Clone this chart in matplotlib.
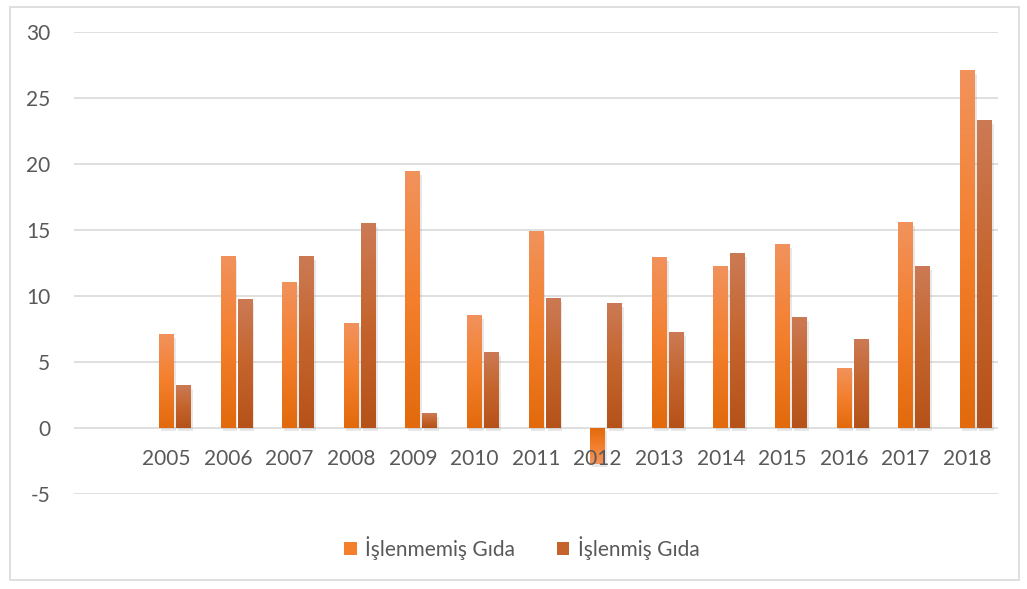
import numpy as np
import matplotlib.pyplot as plt
import matplotlib.patheffects as pe
from matplotlib.colors import LinearSegmentedColormap
from matplotlib.patches import Rectangle, Patch

plt.rcParams['font.family'] = ['Lato', 'DejaVu Sans']
plt.rcParams['axes.unicode_minus'] = False

# first slot is an empty category in the original chart
years = ['', '2005', '2006', '2007', '2008', '2009', '2010', '2011',
         '2012', '2013', '2014', '2015', '2016', '2017', '2018']
islenmemis = [np.nan, 7.1, 13.0, 11.0, 7.9, 19.4, 8.5, 14.9,
              -2.7, 12.9, 12.2, 13.9, 4.5, 15.6, 27.1]
islenmis = [np.nan, 3.2, 9.7, 13.0, 15.5, 1.1, 5.7, 9.8,
            9.4, 7.2, 13.2, 8.4, 6.7, 12.2, 23.3]
yticks = [-5, 0, 5, 10, 15, 20, 25, 30]

txt = '#595959'
fs = 15
cm_orange = LinearSegmentedColormap.from_list('o', ['#E26A0C', '#F47F2C', '#F1925C'])
cm_brown = LinearSegmentedColormap.from_list('b', ['#B5521A', '#C4642C', '#CC7A55'])

fig = plt.figure(figsize=(10.27, 5.89), dpi=100)
ax = fig.add_axes([74 / 1027, 1 - 494 / 589, 924 / 1027, 462 / 589])

x = np.arange(len(years))
w = 0.238
shadow = [pe.SimplePatchShadow(offset=(1.5, -2.5), shadow_rgbFace='#999999', alpha=0.22), pe.Normal()]
b1 = ax.bar(x, islenmemis, w, color='#F47F2C', zorder=3, path_effects=shadow)
b2 = ax.bar(x + 0.275, islenmis, w, color='#C4642C', zorder=3, path_effects=shadow)

# vertical gradient on each bar, dark at the base, light at the tip
grad = np.linspace(0, 1, 256).reshape(-1, 1)
for bars, cmap in [(b1, cm_orange), (b2, cm_brown)]:
    for b in bars:
        h = b.get_height()
        if not np.isfinite(h):
            continue
        x0 = b.get_x()
        ax.imshow(grad, cmap=cmap, origin='lower', aspect='auto', zorder=4,
                  extent=(x0, x0 + b.get_width(), 0, h), interpolation='bilinear')

ax.set_xlim(-0.5, len(years) - 0.5)
ax.set_ylim(-5, 30)
ax.set_yticks(yticks)
ax.set_xticks(x)
ax.set_xticklabels(years)
ax.yaxis.grid(True, color='#D9D9D9', linewidth=1.2)
ax.set_axisbelow(True)
ax.xaxis.set_zorder(5)
for s in ['top', 'right', 'left']:
    ax.spines[s].set_visible(False)
ax.spines['bottom'].set_position(('data', 0))
ax.spines['bottom'].set_visible(False)
ax.tick_params(axis='both', length=0, labelsize=fs, colors=txt)
ax.tick_params(axis='y', pad=17)
ax.tick_params(axis='x', pad=15)

handles = [Patch(facecolor='#F47F2C', label='İşlenmemiş Gıda'),
           Patch(facecolor='#C4642C', label='İşlenmiş Gıda')]
fig.legend(handles=handles, loc='center', bbox_to_anchor=(522 / 1027, 1 - 548 / 589),
           ncol=2, frameon=False, fontsize=fs, labelcolor=txt,
           handlelength=0.6, handleheight=0.6, handletextpad=0.4, columnspacing=2.0)

fig.patches.append(Rectangle((10 / 1027, 9 / 589), 1009 / 1027, 573 / 589,
                             transform=fig.transFigure, fill=False,
                             edgecolor='#D9D9D9', linewidth=1.2))

fig.savefig('out.png', dpi=100)
